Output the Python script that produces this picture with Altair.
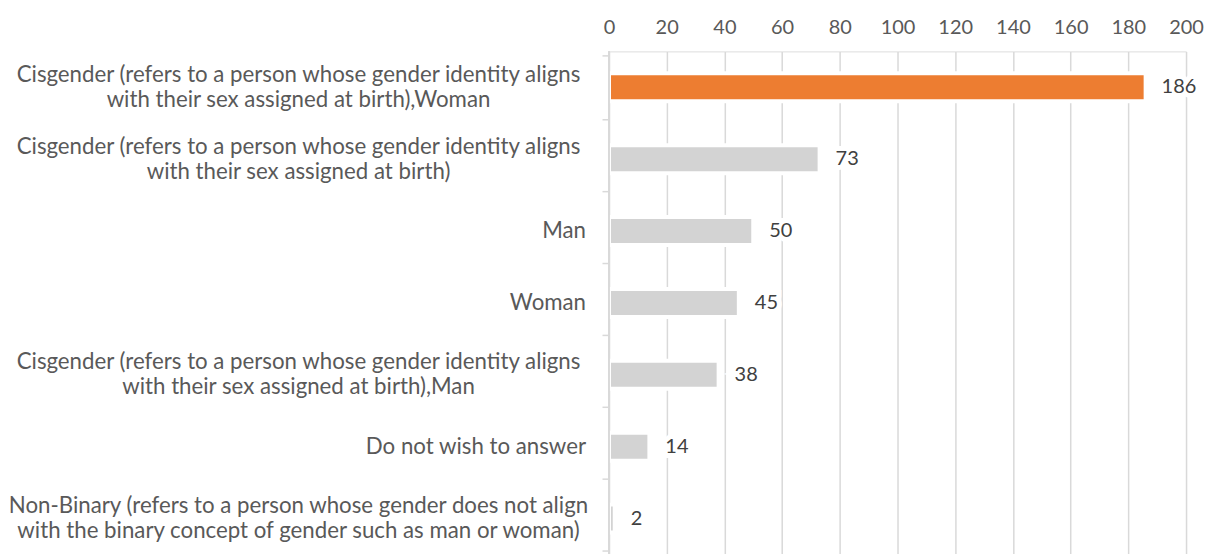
import altair as alt
import pandas as pd

categories = [
    "Cisgender (refers to a person whose gender identity aligns|with their sex assigned at birth),Woman",
    "Cisgender (refers to a person whose gender identity aligns|with their sex assigned at birth)",
    "Man",
    "Woman",
    "Cisgender (refers to a person whose gender identity aligns|with their sex assigned at birth),Man",
    "Do not wish to answer",
    "Non-Binary (refers to a person whose gender does not align|with the binary concept of gender such as man or woman)",
]
values = [186, 73, 50, 45, 38, 14, 2]
highlight = [True, False, False, False, False, False, False]
x_ticks = [0, 20, 40, 60, 80, 100, 120, 140, 160, 180, 200]

df = pd.DataFrame({"category": categories, "value": values, "hl": highlight})

FONT = "Lato"
TWO = "indexof(datum.category, '|') >= 0"

y_enc = alt.Y(
    "category:N",
    sort=categories,
    title=None,
    axis=alt.Axis(
        labels=False,
        tickSize=7,
        tickColor="#d9d9d9",
        tickWidth=1.5,
        domain=False,
        ticks=True,
        grid=False,
        tickBand="extent",
    ),
)

x_enc = alt.X(
    "value:Q",
    scale=alt.Scale(domain=[0, 200], nice=False),
    title=None,
    axis=alt.Axis(
        orient="top",
        values=x_ticks,
        labelFont=FONT,
        labelFontSize=20,
        labelColor="#595959",
        labelPadding=14,
        labelFlush=False,
        domain=False,
        ticks=False,
        grid=True,
        gridColor="#d9d9d9",
        gridWidth=1.5,
    ),
)

base = alt.Chart(df)

bars = base.mark_bar(size=28, stroke="white", strokeWidth=4).encode(
    y=y_enc,
    x=x_enc,
    color=alt.Color(
        "hl:N",
        scale=alt.Scale(domain=[True, False], range=["#ED7D31", "#D3D3D3"]),
        legend=None,
    ),
)

axis_line = base.mark_rule(color="#d9d9d9", strokeWidth=1.5).encode(
    x=alt.datum(0)
)

halo = base.mark_text(
    align="left", baseline="middle", dx=16, font=FONT, fontSize=20,
    color="white", stroke="white", strokeWidth=10,
).encode(
    y=alt.Y("category:N", sort=categories),
    x=alt.X("value:Q"),
    text=alt.Text("value:Q"),
)

labels = base.mark_text(
    align="left", baseline="middle", dx=16, font=FONT, fontSize=20, color="#404040"
).encode(
    y=alt.Y("category:N", sort=categories),
    x=alt.X("value:Q"),
    text=alt.Text("value:Q"),
)

cat_two = base.transform_filter(TWO).mark_text(
    align="center", baseline="middle", dy=-12.5, lineBreak="|", lineHeight=25,
    font=FONT, fontSize=22.3, color="#595959",
).encode(
    y=alt.Y("category:N", sort=categories),
    x=alt.value(-311),
    text="category:N",
)

cat_one = base.transform_filter("!(" + TWO + ")").mark_text(
    align="right", baseline="middle",
    font=FONT, fontSize=22.3, color="#595959",
).encode(
    y=alt.Y("category:N", sort=categories),
    x=alt.value(-23),
    text="category:N",
)

chart = (
    alt.layer(bars, axis_line, halo, labels, cat_two, cat_one)
    .properties(
        width=578,
        height=504,
        autosize=alt.AutoSizeParams(type="none"),
        padding={"left": 602, "top": 43, "right": 20, "bottom": 0},
    )
    .configure_view(stroke=None)
    .configure(background="white")
)

chart.save("out.html", embed_options={"renderer": "svg", "actions": False})
